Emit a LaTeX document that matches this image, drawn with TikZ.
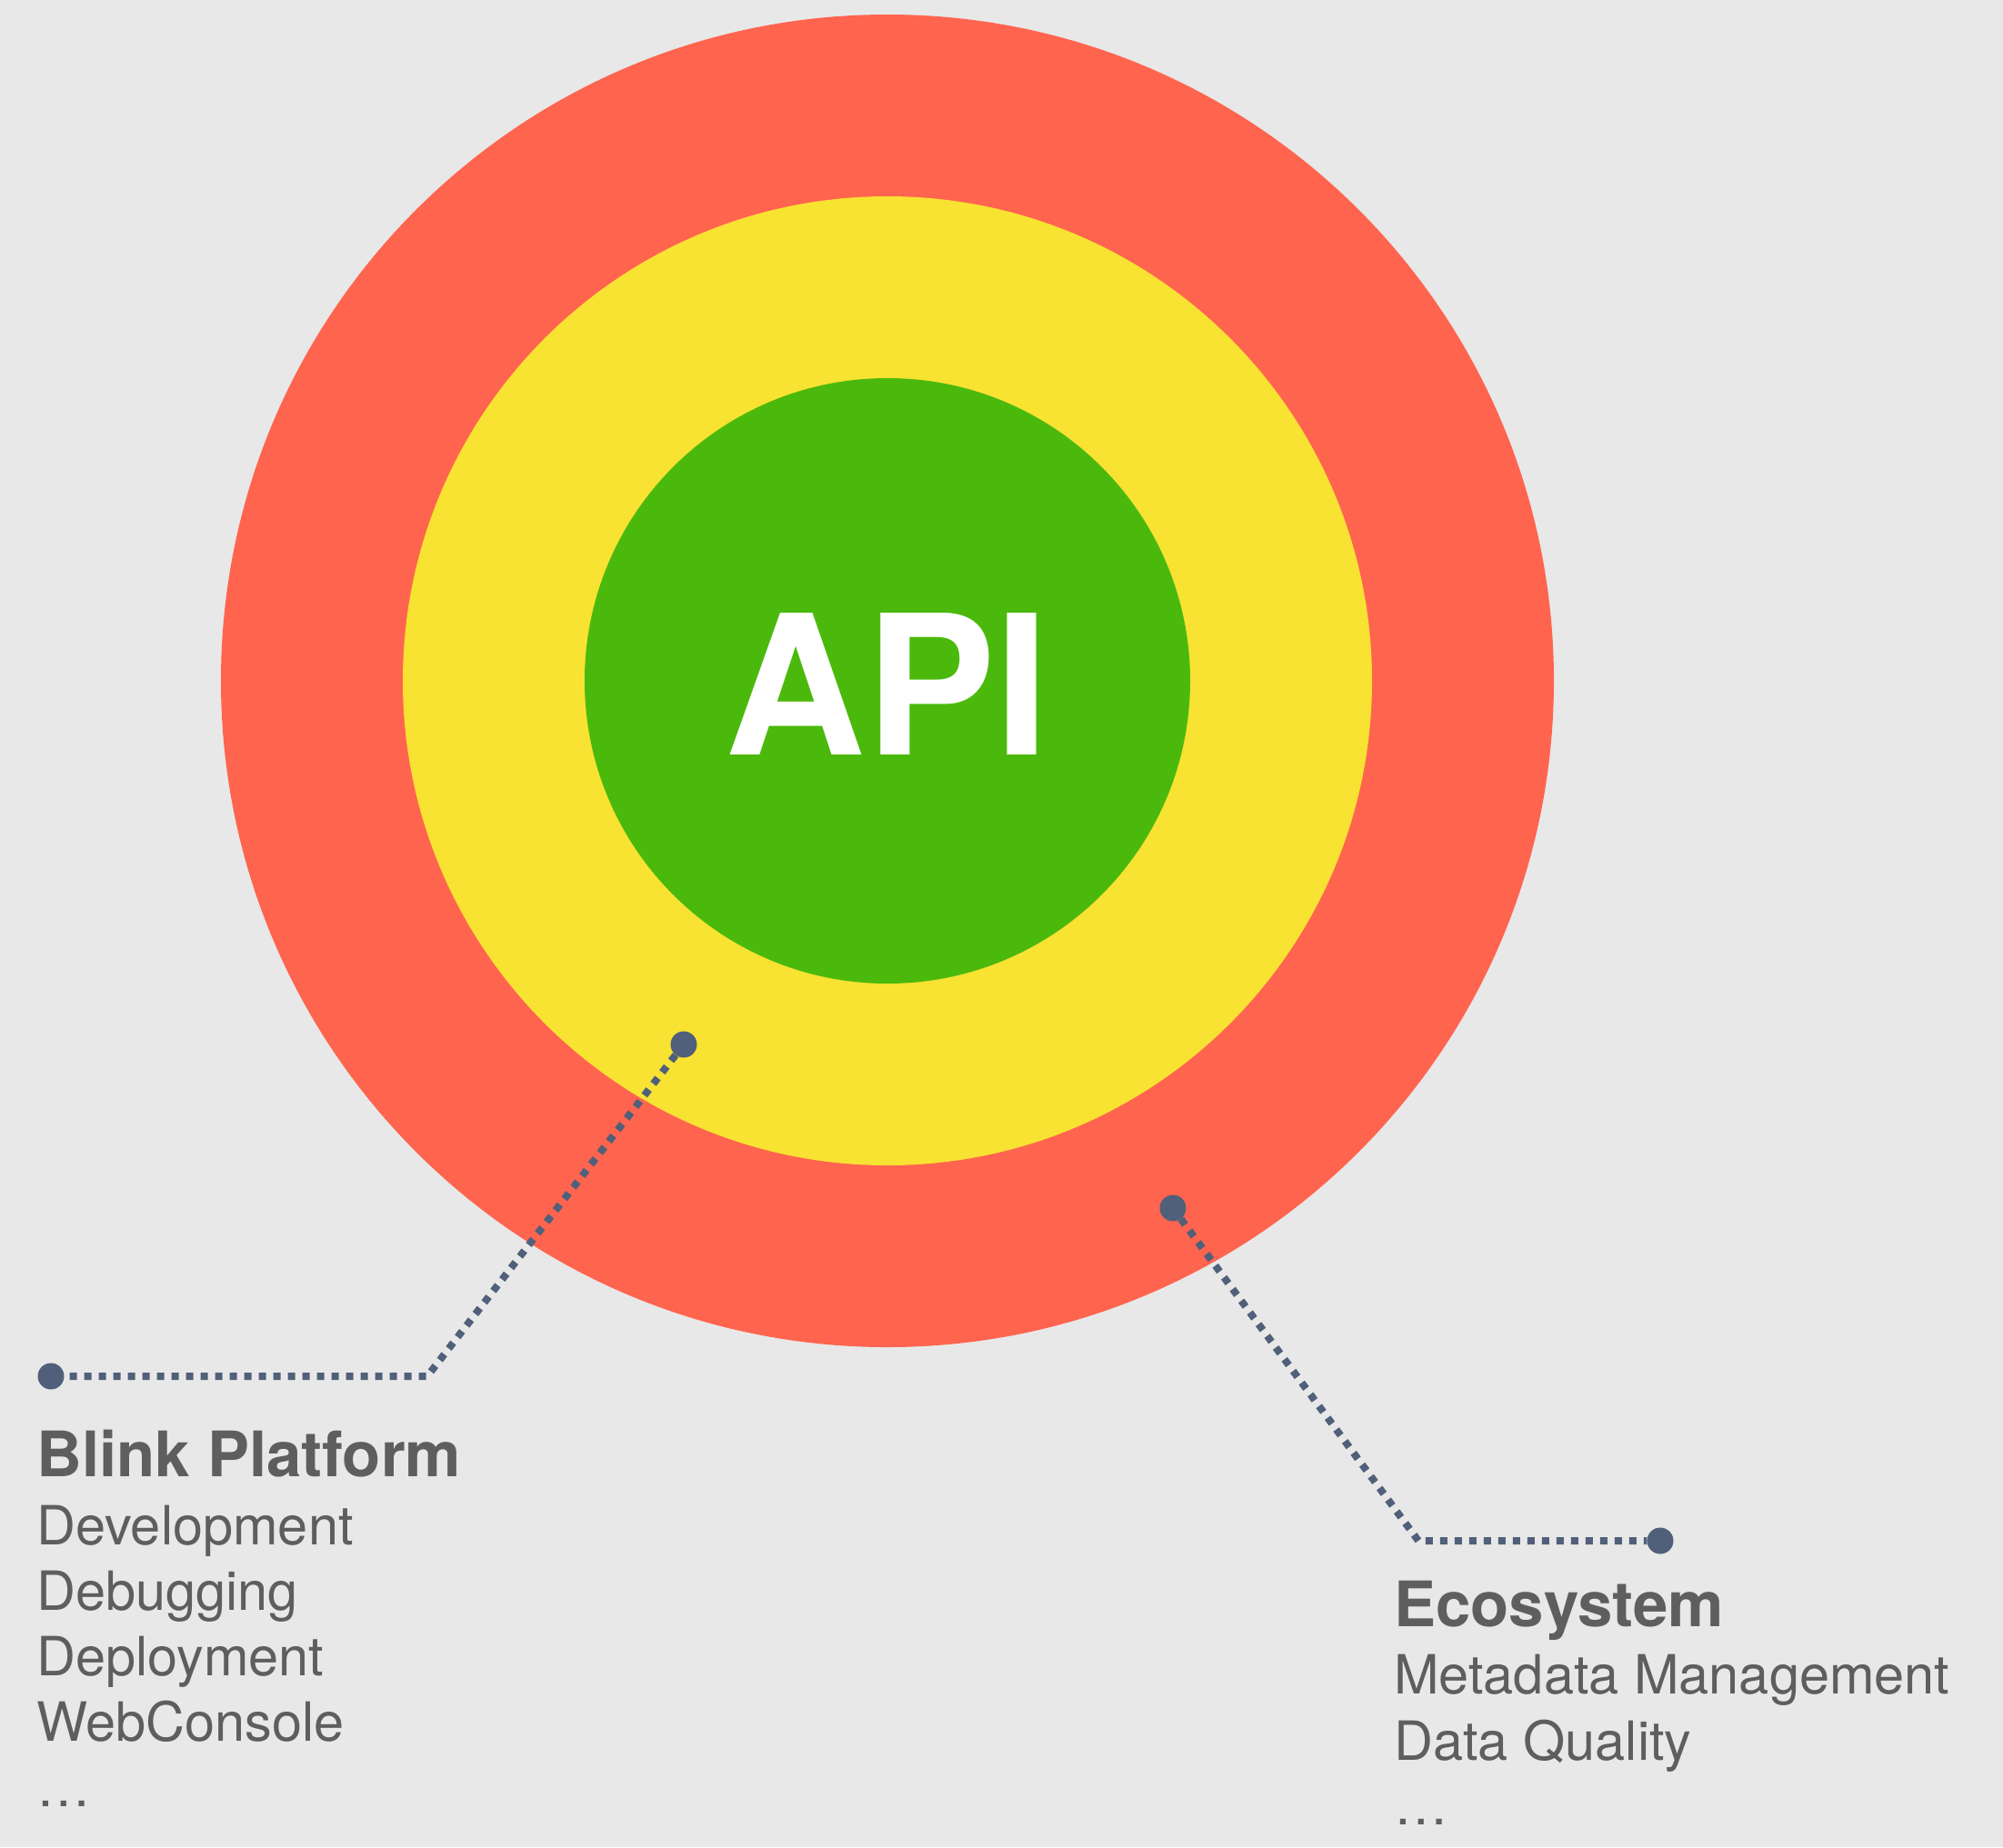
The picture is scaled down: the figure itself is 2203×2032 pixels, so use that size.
\documentclass[tikz,border=0pt]{standalone}
\usepackage{fontspec}
\setmainfont{TeX Gyre Heros}
\definecolor{bgc}{RGB}{232,232,232}
\definecolor{ringred}{RGB}{255,100,79}
\definecolor{ringyellow}{RGB}{248,226,50}
\definecolor{ringgreen}{RGB}{75,185,12}
\definecolor{linec}{RGB}{80,96,122}
\definecolor{txtc}{RGB}{94,94,94}
\begin{document}
\begin{tikzpicture}[x=1pt,y=-1pt,
  ring/.style={circle,inner sep=0pt,minimum size=#1},
  dotnode/.style={circle,fill=linec,inner sep=0pt,minimum size=29pt},
  leader/.style={draw=linec,line width=8pt,dash pattern=on 8pt off 8pt},
  headtxt/.style={anchor=base west,inner sep=0pt,text=txtc,font=\fontsize{69}{69}\selectfont\bfseries},
  bodytxt/.style={anchor=base west,inner sep=0pt,text=txtc,font=\fontsize{59.5}{59.5}\selectfont}]
\fill[bgc] (0,0) rectangle (2203,2032);
\useasboundingbox (0,0) rectangle (2203,2032);
% rings
\node[ring=1466pt,fill=ringred] (outer) at (976,749) {};
\node[ring=1066pt,fill=ringyellow] (middle) at (976,749) {};
\node[ring=666pt,fill=ringgreen] (inner) at (976,749) {};
\node[anchor=base,inner sep=0pt,text=white,font=\fontsize{214}{214}\selectfont\bfseries] (api) at (976,830) {API};
% leader dots
\node[dotnode] (bi) at (752,1149) {};
\coordinate (bc) at (470,1514);
\node[dotnode] (bo) at (56,1514) {};
\node[dotnode] (ei) at (1290,1329) {};
\coordinate (ec) at (1560,1695);
\node[dotnode] (eo) at (1826,1695) {};
\draw[leader] (bi) -- (bc) -- (bo);
\draw[leader] (ei) -- (ec) -- (eo);
% Blink Platform
\node[headtxt] (bh) at (40,1624) {Blink Platform};
\node[bodytxt] (b1) at (40,1699) {Development};
\node[bodytxt] (b2) at (40,1771) {Debugging};
\node[bodytxt] (b3) at (40,1843) {Deployment};
\node[bodytxt] (b4) at (40,1915) {WebConsole};
\node[bodytxt] (b5) at (40,1987) {…};
% Ecosystem
\node[headtxt] (eh) at (1533,1789) {Ecosystem};
\node[bodytxt] (e1) at (1533,1863) {Metadata Management};
\node[bodytxt] (e2) at (1533,1936) {Data Quality};
\node[bodytxt] (e3) at (1533,2007) {…};
\end{tikzpicture}
\end{document}
